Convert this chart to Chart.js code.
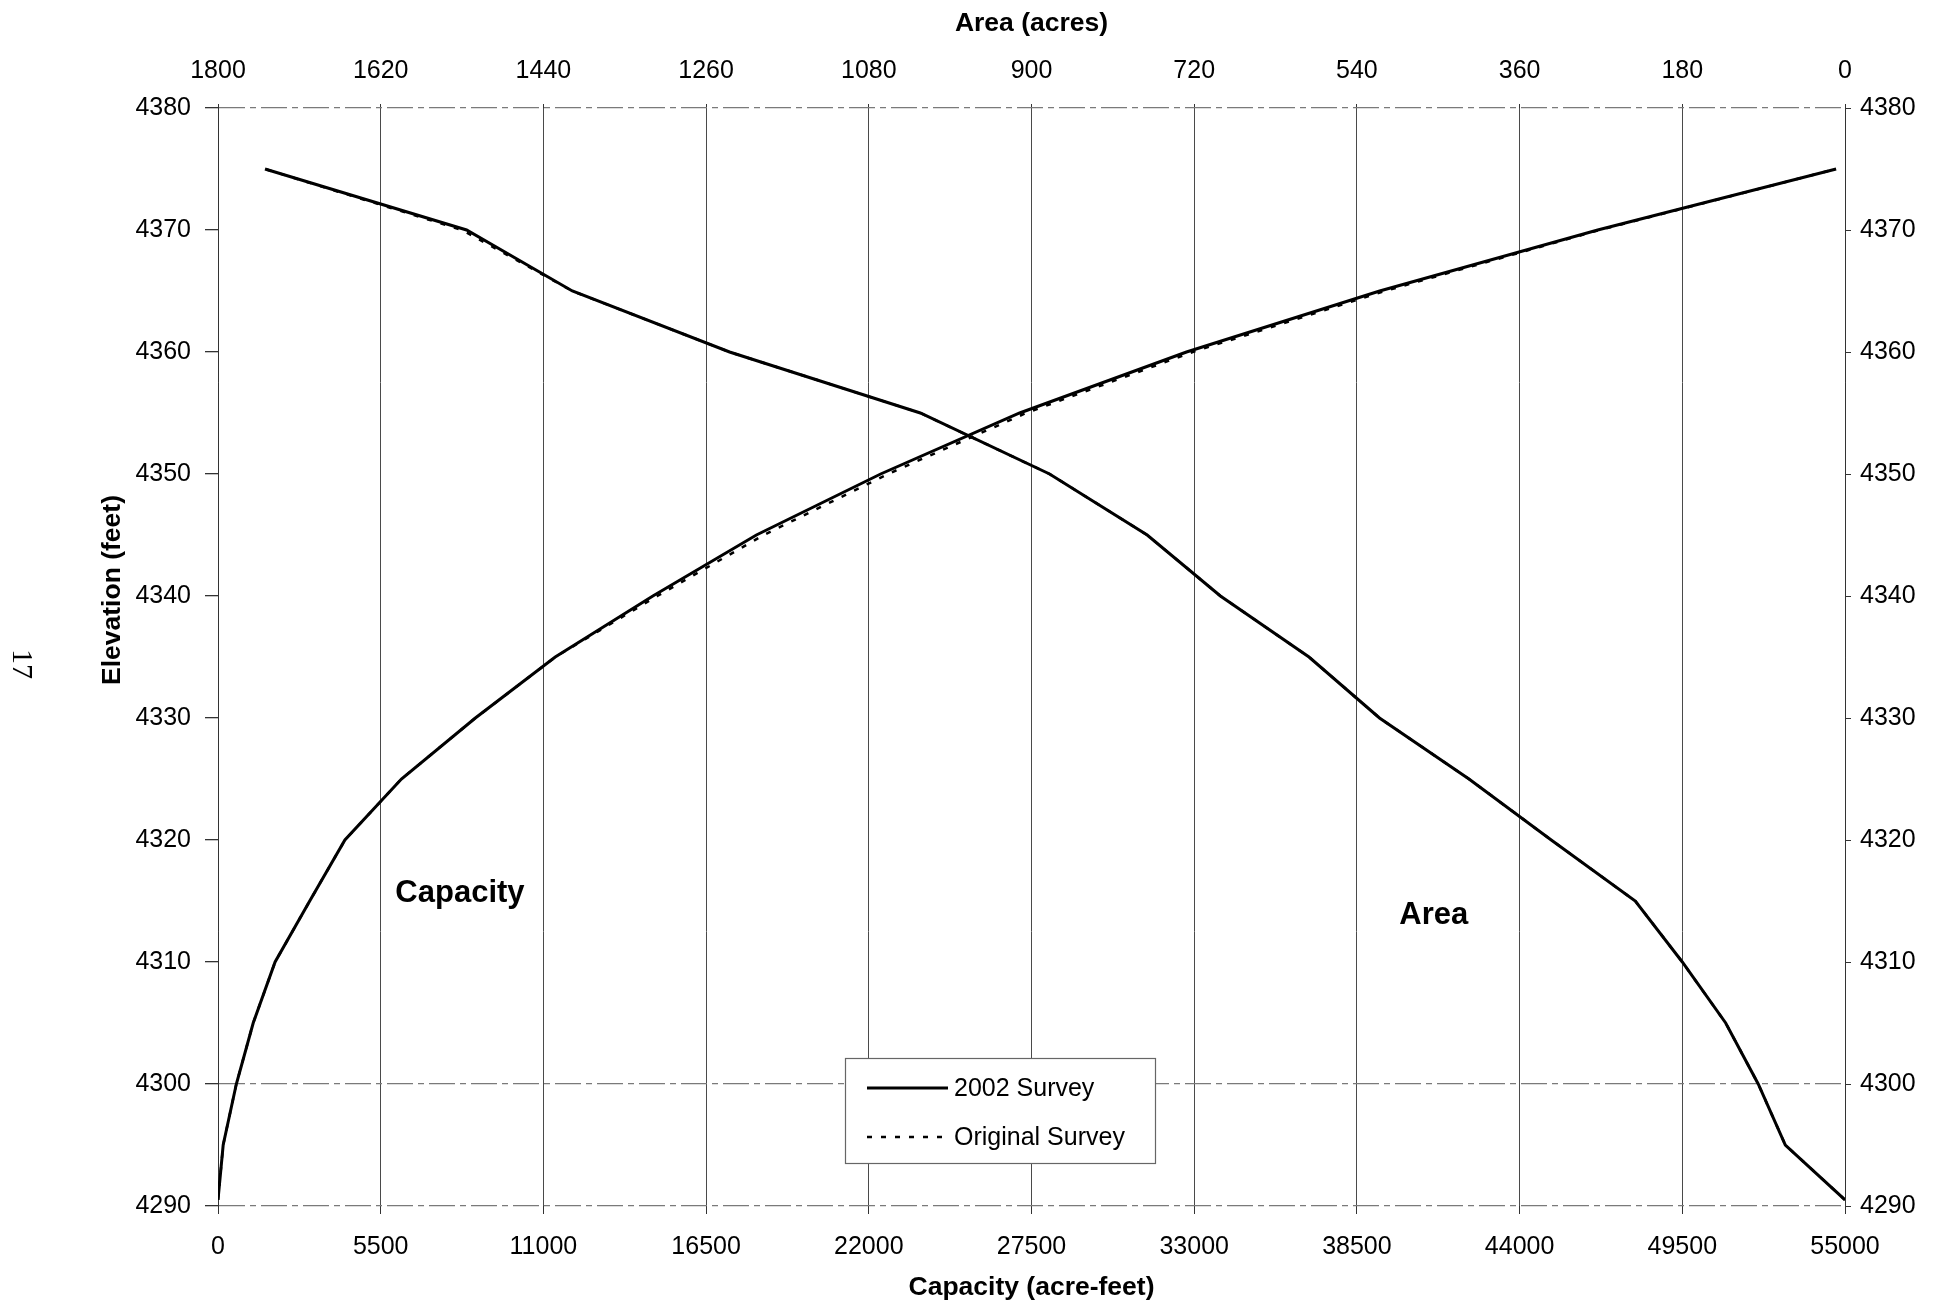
<!DOCTYPE html>
<html>
<head>
<meta charset="utf-8">
<script src="https://cdn.jsdelivr.net/npm/chart.js@4.4.1/dist/chart.umd.min.js"></script>
<style>
  html, body { margin: 0; padding: 0; background: #fff; }
  #wrap { width: 1933px; height: 1306px; }
</style>
</head>
<body>
<div id="wrap"><canvas id="elevChart" width="1933" height="1306"></canvas></div>
<script>
// elevation (feet) for every surveyed point
const elevation = [4290.5, 4295, 4300, 4305, 4310, 4315, 4320, 4325, 4330, 4335, 4340, 4345, 4350, 4355, 4360, 4365, 4370, 4375];

// capacity (acre-feet)
const capacity2002     = [0, 175, 620, 1190, 1930, 3100, 4290, 6200, 8700, 11400, 14700, 18200, 22400, 27100, 32740, 39270, 46640, 54700];
const capacityOriginal = [0, 175, 620, 1190, 1930, 3100, 4290, 6200, 8700, 11400, 14850, 18450, 22650, 27320, 32950, 39450, 46700, 54700];

// surface area (acres)
const area2002     = [0, 66, 96, 132, 180, 232, 325, 416, 515, 593, 691, 772, 880, 1023, 1234, 1408, 1525, 1748];
const areaOriginal = [0, 66, 96, 132, 180, 232, 325, 416, 515, 593, 691, 772, 880, 1023, 1234, 1408, 1530, 1748];

// tick labels
const capacityTicks  = [0, 5500, 11000, 16500, 22000, 27500, 33000, 38500, 44000, 49500, 55000];
const areaTicks      = [1800, 1620, 1440, 1260, 1080, 900, 720, 540, 360, 180, 0];
const elevationTicks = [4290, 4300, 4310, 4320, 4330, 4340, 4350, 4360, 4370, 4380];

const FONT = '"Liberation Sans", Arial, sans-serif';
const INK = '#000';

function pairs(xs) {
    return elevation.map((e, i) => ({ x: xs[i], y: e }));
}

function setTicks(list) {
    return function (scale) {
        scale.ticks = list.map(v => ({ value: v }));
    };
}

//..extra text: curve names, legend box, y title, page number
const paperExtras = {
    id: 'paperExtras',
    afterDraw(chart) {
        const { ctx, scales } = chart;
        ctx.save();
        ctx.fillStyle = INK;
        ctx.textBaseline = 'middle';

        // curve names
        ctx.font = 'bold 31px ' + FONT;
        ctx.textAlign = 'center';
        ctx.fillText('Capacity', scales.x.getPixelForValue(8180), scales.y.getPixelForValue(4315.6));
        ctx.fillText('Area', scales.x.getPixelForValue(41100), scales.y.getPixelForValue(4313.8));

        // legend
        const lx = 845, ly = 1058, lw = 310, lh = 105;
        ctx.fillStyle = '#fff';
        ctx.fillRect(lx, ly, lw, lh);
        ctx.strokeStyle = '#666';
        ctx.lineWidth = 1.2;
        ctx.strokeRect(lx + 0.5, ly + 0.5, lw, lh);

        ctx.strokeStyle = INK;
        ctx.lineWidth = 3;
        ctx.beginPath();
        ctx.moveTo(867, 1088);
        ctx.lineTo(948, 1088);
        ctx.stroke();

        ctx.lineWidth = 2.5;
        ctx.setLineDash([5, 9]);
        ctx.beginPath();
        ctx.moveTo(867, 1137);
        ctx.lineTo(950, 1137);
        ctx.stroke();
        ctx.setLineDash([]);

        ctx.fillStyle = INK;
        ctx.font = '25px ' + FONT;
        ctx.textAlign = 'left';
        ctx.fillText('2002 Survey', 954, 1089);
        ctx.fillText('Original Survey', 954, 1138);

        // left axis title
        ctx.save();
        ctx.translate(113, 590);
        ctx.rotate(-Math.PI / 2);
        ctx.font = 'bold 26.5px ' + FONT;
        ctx.textAlign = 'center';
        ctx.fillText('Elevation (feet)', 0, 0);
        ctx.restore();

        // page number
        ctx.save();
        ctx.translate(21, 664);
        ctx.rotate(Math.PI / 2);
        ctx.font = '30px "Liberation Serif", "Times New Roman", serif';
        ctx.textAlign = 'center';
        ctx.fillText('17', 0, 0);
        ctx.restore();

        ctx.restore();
    }
};

const edgeLines = [4290, 4300, 4380];

new Chart(document.getElementById('elevChart'), {
    type: 'line',
    data: {
        datasets: [
            {
                label: '2002 Survey',
                data: pairs(capacity2002),
                xAxisID: 'x', yAxisID: 'y',
                borderColor: INK, borderWidth: 3
            },
            {
                label: '2002 Survey',
                data: pairs(area2002),
                xAxisID: 'x2', yAxisID: 'y',
                borderColor: INK, borderWidth: 3
            },
            {
                label: 'Original Survey',
                data: pairs(capacityOriginal),
                xAxisID: 'x', yAxisID: 'y',
                borderColor: INK, borderWidth: 2.5, borderDash: [5, 9]
            },
            {
                label: 'Original Survey',
                data: pairs(areaOriginal),
                xAxisID: 'x2', yAxisID: 'y',
                borderColor: INK, borderWidth: 2.5, borderDash: [5, 9]
            }
        ]
    },
    options: {
        responsive: false,
        animation: false,
        devicePixelRatio: 1,
        layout: { padding: 0 },
        elements: {
            point: { radius: 0 },
            line: { tension: 0, fill: false }
        },
        plugins: {
            legend: { display: false },
            tooltip: { enabled: false }
        },
        scales: {
            x: {
                type: 'linear',
                position: 'bottom',
                min: 0, max: 55000,
                afterBuildTicks: setTicks(capacityTicks),
                afterFit(scale) { scale.height = 100; },
                ticks: {
                    color: INK, font: { family: FONT, size: 25 },
                    padding: 18, maxRotation: 0, autoSkip: false,
                    callback: v => String(v)
                },
                grid: { color: '#4a4a4a', lineWidth: 1, tickLength: 8, tickColor: '#333' },
                border: { display: false },
                title: {
                    display: true, text: 'Capacity (acre-feet)', color: INK,
                    font: { family: FONT, size: 26.5, weight: 'bold' },
                    padding: { top: 0, bottom: 2 }
                }
            },
            x2: {
                type: 'linear',
                position: 'top',
                min: 0, max: 1800,
                reverse: true,
                afterBuildTicks: setTicks(areaTicks),
                afterFit(scale) { scale.height = 108; },
                ticks: {
                    color: INK, font: { family: FONT, size: 25 },
                    padding: 18, maxRotation: 0, autoSkip: false,
                    callback: v => String(v)
                },
                grid: { drawOnChartArea: false, tickLength: 4, tickColor: '#333' },
                border: { display: false },
                title: {
                    display: true, text: 'Area (acres)', color: INK,
                    font: { family: FONT, size: 26.5, weight: 'bold' },
                    padding: { top: 8, bottom: 0 }
                }
            },
            y: {
                type: 'linear',
                position: 'left',
                min: 4290, max: 4380,
                afterBuildTicks: setTicks(elevationTicks),
                afterFit(scale) { scale.width = 218; },
                ticks: {
                    color: INK, font: { family: FONT, size: 25 },
                    padding: 14, autoSkip: false,
                    callback: v => String(v)
                },
                grid: {
                    color: ctx => edgeLines.includes(ctx.tick && ctx.tick.value) ? '#7a7a7a' : 'rgba(0,0,0,0)',
                    lineWidth: 1.3,
                    tickLength: 13,
                    tickColor: '#333'
                },
                border: { display: true, color: '#333', width: 1, dash: [26, 5, 6, 5] },
                title: { display: false }
            },
            y2: {
                type: 'linear',
                position: 'right',
                min: 4290, max: 4380,
                afterBuildTicks: setTicks(elevationTicks),
                afterFit(scale) { scale.width = 88; },
                ticks: {
                    color: INK, font: { family: FONT, size: 25 },
                    padding: 9, autoSkip: false,
                    callback: v => String(v)
                },
                grid: { drawOnChartArea: false, tickLength: 6, tickColor: '#333' },
                border: { display: true, color: '#333', width: 1 }
            }
        }
    },
    plugins: [paperExtras]
});
</script>
</body>
</html>
